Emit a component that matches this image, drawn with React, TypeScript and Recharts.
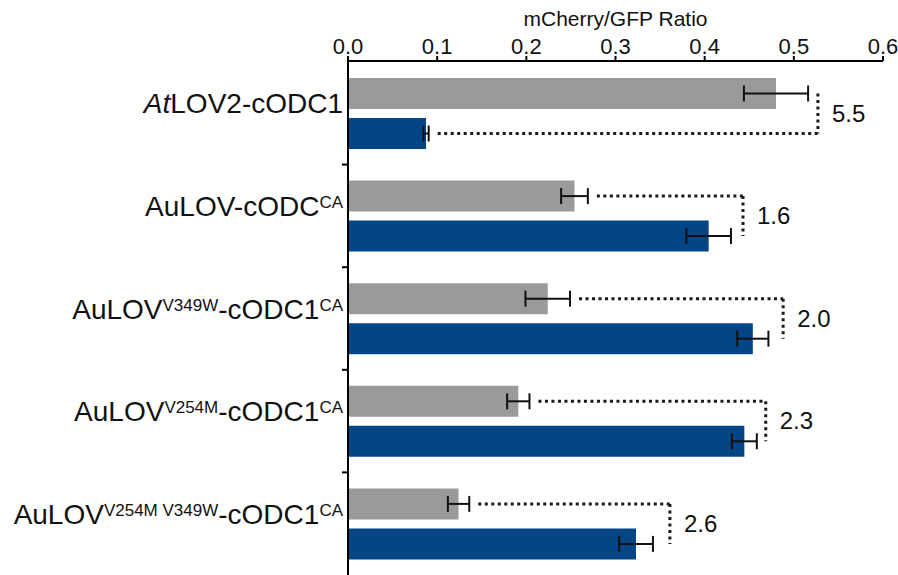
import React from "react";
import {
  BarChart,
  Bar,
  XAxis,
  YAxis,
  ErrorBar,
  Label,
  Rectangle,
} from "recharts";

const categories = [
  "AtLOV2-cODC1",
  "AuLOV-cODC-CA",
  "AuLOV-V349W-cODC1-CA",
  "AuLOV-V254M-cODC1-CA",
  "AuLOV-V254M-V349W-cODC1-CA",
];

// n = normal, i = italic, s = superscript
const labelParts: Array<Array<[string, string]>> = [
  [["At", "i"], ["LOV2-cODC1", "n"]],
  [["AuLOV-cODC", "n"], ["CA", "s"]],
  [["AuLOV", "n"], ["V349W", "s"], ["-cODC1", "n"], ["CA", "s"]],
  [["AuLOV", "n"], ["V254M", "s"], ["-cODC1", "n"], ["CA", "s"]],
  [["AuLOV", "n"], ["V254M V349W", "s"], ["-cODC1", "n"], ["CA", "s"]],
];

const greyValues = [0.48, 0.254, 0.224, 0.191, 0.124];
const greyErr = [0.036, 0.015, 0.025, 0.0125, 0.012];
const blueValues = [0.0875, 0.4045, 0.454, 0.4445, 0.323];
const blueErr = [0.003, 0.025, 0.0175, 0.014, 0.019];
const bracketAt = [0.527, 0.443, 0.488, 0.4685, 0.361];
const foldLabels = ["5.5", "1.6", "2.0", "2.3", "2.6"];
const xTicks = [0, 0.1, 0.2, 0.3, 0.4, 0.5, 0.6];

const data = categories.map((name, i) => ({
  name,
  grey: greyValues[i],
  greyErr: greyErr[i],
  blue: blueValues[i],
  blueErr: blueErr[i],
}));

const FONT = "'Liberation Sans', Arial, Helvetica, sans-serif";
const BAR_SIZE = 31;
const BAR_GAP = 9;
const GREY = "#9a9a9a";
const BLUE = "#034585";

const CategoryTick = (props: any) => {
  const { x, y, payload, index } = props;
  const parts = labelParts[index] ?? [[String(payload.value), "n"]];
  const half = payload?.offset || 51.3;
  let shift = 0;
  return (
    <g>
      <text
        x={x - 5}
        y={y}
        dy={10}
        textAnchor="end"
        fontSize={28}
        fill="#111"
        fontFamily={FONT}
      >
        {parts.map(([t, kind], j) => {
          const target = kind === "s" ? -8 : 0;
          const dy = target - shift;
          shift = target;
          return (
            <tspan
              key={j}
              dy={dy}
              fontSize={kind === "s" ? 17 : 28}
              fontStyle={kind === "i" ? "italic" : "normal"}
            >
              {t}
            </tspan>
          );
        })}
      </text>
      {index < categories.length - 1 && (
        <line
          x1={x - 6}
          x2={x}
          y1={y + half}
          y2={y + half}
          stroke="#000"
          strokeWidth={2}
        />
      )}
    </g>
  );
};

const BlueBarShape = (props: any) => {
  const { x, y, width, height, payload } = props;
  const i = categories.indexOf(payload.name);
  const k = width / blueValues[i];
  const blueC = y + height / 2;
  const greyC = blueC - (BAR_SIZE + BAR_GAP);
  const bx = x + k * bracketAt[i];
  const greyShorter = greyValues[i] < blueValues[i];
  const hy = greyShorter ? greyC : blueC;
  const hx0 = greyShorter
    ? x + k * (greyValues[i] + greyErr[i]) + 9
    : x + k * (blueValues[i] + blueErr[i]) + 9;
  const dotted = {
    stroke: "#1a1a1a",
    strokeWidth: 3,
    strokeDasharray: "3 3.5",
    fill: "none",
  };
  return (
    <g>
      <Rectangle x={x} y={y} width={width} height={height} fill={BLUE} />
      <line x1={hx0} x2={bx} y1={hy} y2={hy} {...dotted} />
      <line x1={bx} x2={bx} y1={greyC} y2={blueC} {...dotted} />
      <text
        x={bx + 14}
        y={(greyC + blueC) / 2}
        dy={8}
        fontSize={24}
        fill="#111"
        fontFamily={FONT}
      >
        {foldLabels[i]}
      </text>
    </g>
  );
};

export default function App() {
  return (
    <div
      style={{
        position: "fixed",
        left: 0,
        top: 0,
        width: 898,
        height: 575,
        background: "#fff",
      }}
    >
      <BarChart
        width={898}
        height={575}
        data={data}
        layout="vertical"
        margin={{ top: 8, right: 15, bottom: 0, left: 8 }}
        barSize={BAR_SIZE}
        barGap={BAR_GAP}
      >
        <XAxis
          type="number"
          orientation="top"
          domain={[0, 0.6]}
          ticks={xTicks}
          tickFormatter={(v: number) => v.toFixed(1)}
          height={53}
          tickSize={5}
          tickMargin={2}
          axisLine={{ stroke: "#000", strokeWidth: 2 }}
          tickLine={{ stroke: "#000", strokeWidth: 2 }}
          tick={{ fontSize: 22, fill: "#111", fontFamily: FONT }}
        >
          <Label
            value="mCherry/GFP Ratio"
            position="insideTop"
            offset={3}
            style={{ fontSize: 21, fill: "#111", fontFamily: FONT }}
          />
        </XAxis>
        <YAxis
          type="category"
          dataKey="name"
          width={340}
          padding={{ top: 1, bottom: 0 }}
          tickLine={false}
          tickSize={0}
          tickMargin={0}
          axisLine={{ stroke: "#000", strokeWidth: 2 }}
          tick={<CategoryTick />}
          interval={0}
        />
        <Bar dataKey="grey" fill={GREY} isAnimationActive={false}>
          <ErrorBar
            dataKey="greyErr"
            direction="x"
            stroke="#111"
            strokeWidth={2}
            width={8}
          />
        </Bar>
        <Bar
          dataKey="blue"
          fill={BLUE}
          isAnimationActive={false}
          shape={<BlueBarShape />}
        >
          <ErrorBar
            dataKey="blueErr"
            direction="x"
            stroke="#111"
            strokeWidth={2}
            width={8}
          />
        </Bar>
      </BarChart>
    </div>
  );
}
